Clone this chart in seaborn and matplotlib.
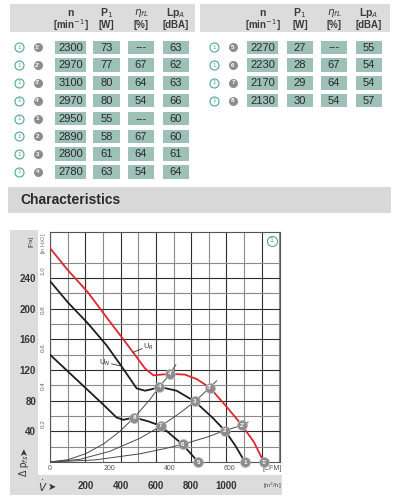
import matplotlib
matplotlib.use('Agg')
import matplotlib.pyplot as plt
import matplotlib.transforms as mtransforms
from matplotlib.patches import Rectangle
import seaborn as sns

# Config
sns.set_style('white')
plt.rcParams['font.family'] = ['Liberation Sans Narrow', 'Liberation Sans', 'DejaVu Sans']
TEAL = '#4fa596'
BOX = '#9dc1b7'
PANEL = '#dcdcdc'
MARK = '#8c8c8c'
RED = '#e2262c'

# Table data
left_ids = ["1'", "2'", "3'", "4'", "1", "2", "3", "4"]
left_n = [2300, 2970, 3100, 2970, 2950, 2890, 2800, 2780]
left_p1 = [73, 77, 80, 80, 55, 58, 61, 63]
left_eta = ['---', 67, 64, 54, '---', 67, 64, 54]
left_lp = [63, 62, 63, 66, 60, 60, 61, 64]
right_ids = ['5', '6', '7', '8']
right_n = [2270, 2230, 2170, 2130]
right_p1 = [27, 28, 29, 30]
right_eta = ['---', 67, 64, 54]
right_lp = [55, 54, 54, 57]
header_top = ['n', 'P$_1$', '$\\eta_{fL}$', 'Lp$_A$']
header_unit = ['[min$^{-1}$]', '[W]', '[%]', '[dBA]']

# Fan curves (CFM, Pa)
red_cfm = [0, 60, 125, 190, 260, 317, 345, 370, 400, 450, 490, 533, 589, 640, 680, 713]
red_pa = [279, 250, 222, 188, 152, 122, 113, 114, 115, 114, 108, 97, 72, 48, 26, 0]
mid_cfm = [0, 60, 126, 189, 240, 289, 317, 340, 365, 422, 483, 544, 583, 617, 650]
mid_pa = [236, 208, 181, 152, 124, 96, 93, 95, 98, 93, 79, 57, 41, 22, 0]
low_cfm = [0, 60, 120, 180, 222, 244, 281, 328, 370, 405, 442, 467, 494]
low_pa = [140, 118, 96, 74, 58, 55, 58, 53, 47, 35, 23, 12, 0]

# System curves through the operating points
sys_a_cfm = [0, 60, 120, 180, 230, 281, 330, 365, 400, 420]
sys_a_pa = [0, 3, 11, 24, 39, 58, 80, 98, 115, 127]
sys_b_cfm = [0, 100, 200, 300, 370, 430, 483, 533, 556]
sys_b_pa = [0, 3.5, 14, 31, 47, 63, 79, 97, 106]
sys_c_cfm = [0, 150, 300, 383, 442, 520, 583, 641, 661]
sys_c_pa = [0, 2.7, 10.7, 17.5, 23, 32, 41, 48, 52]

# Operating points
red_pt_ids = ["1'", "2'", "3'", "4'"]
red_pt_cfm = [713, 641, 533, 400]
red_pt_pa = [0, 48, 97, 115]
mid_pt_ids = ['1', '2', '3', '4']
mid_pt_cfm = [650, 583, 483, 365]
mid_pt_pa = [0, 41, 79, 98]
low_pt_ids = ['5', '6', '7', '8']
low_pt_cfm = [494, 442, 370, 281]
low_pt_pa = [0, 23, 47, 58]

# Axis labels
pa_ticks = [40, 80, 120, 160, 200, 240]
inh2o_ticks = [0.2, 0.4, 0.6, 0.8, 1.0]
cfm_ticks = [0, 200, 400, 600]
m3h_ticks = [200, 400, 600, 800, 1000]
M3H_PER_CFM = 1.699
PA_PER_INH2O = 249.1

fig = plt.figure(figsize=(4, 5), dpi=100)
bg = fig.add_axes([0, 0, 1, 1])
bg.set_xlim(0, 400)
bg.set_ylim(500, 0)
bg.axis('off')

# Table header bands
for x0, x1 in [(10, 195), (200, 390)]:
    bg.add_patch(Rectangle((x0, 4), x1 - x0, 28, color='#dcdcdc', lw=0))

left_cols = [(55, 86), (93, 120), (128, 154), (163, 189)]
right_cols = [(247, 278), (287, 313), (321, 347), (356, 382)]


def draw_table(cols, icon_x, ids, n, p1, eta, lp):
    for (x0, x1), top, unit in zip(cols, header_top, header_unit):
        xc = (x0 + x1) / 2
        bg.text(xc, 13, top, ha='center', va='center', fontsize=7.5, color='#3a3a3a',
                fontweight='bold')
        bg.text(xc, 25, unit, ha='center', va='center', fontsize=7, color='#3a3a3a',
                fontweight='bold')
    for i, row in enumerate(zip(ids, n, p1, eta, lp)):
        y = 47.3 + i * 17.8
        bg.scatter([icon_x[0]], [y], s=42, facecolor='white', edgecolor=TEAL, lw=0.8)
        bg.text(icon_x[0], y, '1', ha='center', va='center', fontsize=4.5, color=TEAL)
        bg.scatter([icon_x[1]], [y], s=42, color=MARK, lw=0)
        bg.text(icon_x[1], y, row[0], ha='center', va='center', fontsize=4.5,
                color='white', fontweight='bold')
        for (x0, x1), val in zip(cols, row[1:]):
            bg.add_patch(Rectangle((x0, y - 6.8), x1 - x0, 13.6, color=BOX, lw=0))
            bg.text((x0 + x1) / 2, y + 0.3, str(val), ha='center', va='center',
                    fontsize=8, color='#2a2a2a')


draw_table(left_cols, (19, 37.5), left_ids, left_n, left_p1, left_eta, left_lp)
draw_table(right_cols, (214, 233), right_ids, right_n, right_p1, right_eta, right_lp)

# Characteristics band
bg.add_patch(Rectangle((8, 187), 383, 26, color='#d9d9d9', lw=0))
bg.text(20, 200.5, 'Characteristics', ha='left', va='center', fontsize=10,
        fontweight='bold', color='#2a2a2a')

# Gray L panel around the chart
bg.add_patch(Rectangle((10, 230), 28, 265, color=PANEL, lw=0))
bg.add_patch(Rectangle((10, 475), 272, 20, color=PANEL, lw=0))
bg.text(31, 241, '[Pa]', rotation=90, ha='center', va='center', fontsize=4.5, color='#444')
bg.text(24, 466, 'Δ p$_{fs}$', rotation=90, ha='center', va='center',
        fontsize=7, color='#333')
bg.text(24, 451, '➤', rotation=90, ha='center', va='center', fontsize=7,
        color='#333', family='DejaVu Sans')
bg.text(43, 486, '$\\dot{V}$', ha='center', va='center', fontsize=7.5, color='#333')
bg.text(52, 486.5, '➤', ha='center', va='center', fontsize=7, color='#333',
        family='DejaVu Sans')

# Chart
ax = fig.add_axes([50 / 400, 1 - 462 / 500, 230 / 400, 230 / 500])
ax.set_xlim(0, 767)
ax.set_ylim(0, 300)

grid_major = [m / M3H_PER_CFM for m in range(0, 1400, 200)]
grid_minor = [m / M3H_PER_CFM for m in range(100, 1400, 200)]
ax.set_xticks(grid_major)
ax.set_xticks(grid_minor, minor=True)
ax.set_yticks(pa_ticks)
ax.set_yticks(list(range(20, 300, 40)), minor=True)
ax.set_xticklabels([])
ax.set_yticklabels([str(v) for v in pa_ticks], fontsize=7, fontweight='bold', color='#333')
ax.tick_params(axis='both', which='both', length=0)
ax.tick_params(axis='y', pad=10)
ax.grid(which='major', color='#2e2e2e', lw=0.8)
ax.grid(which='minor', color='#8a8a8a', lw=0.8)
for s in ax.spines.values():
    s.set_color('#555')
    s.set_linewidth(0.8)

sys_style = dict(color='#4a4a4a', lw=0.7, sort=False, estimator=None, zorder=3)
sns.lineplot(x=sys_a_cfm, y=sys_a_pa, ax=ax, **sys_style)
sns.lineplot(x=sys_b_cfm, y=sys_b_pa, ax=ax, **sys_style)
sns.lineplot(x=sys_c_cfm, y=sys_c_pa, ax=ax, **sys_style)

sns.lineplot(x=low_cfm, y=low_pa, ax=ax, color='#1e1e1e', lw=1.3, sort=False, estimator=None, zorder=4)
sns.lineplot(x=mid_cfm, y=mid_pa, ax=ax, color='#1e1e1e', lw=1.3, sort=False, estimator=None, zorder=4)
sns.lineplot(x=red_cfm, y=red_pa, ax=ax, color=RED, lw=1.3, sort=False, estimator=None, zorder=4)

for ids, xs, ys in [(red_pt_ids, red_pt_cfm, red_pt_pa),
                    (mid_pt_ids, mid_pt_cfm, mid_pt_pa),
                    (low_pt_ids, low_pt_cfm, low_pt_pa)]:
    ax.scatter(xs, ys, s=52, color=MARK, edgecolor='#bdbdbd', lw=0.5, zorder=6, clip_on=False)
    for label, x, y in zip(ids, xs, ys):
        ax.text(x, y, label, ha='center', va='center', fontsize=4.5, color='white',
                fontweight='bold', zorder=7, clip_on=False)

# U_R / U_N labels
ax.plot([277, 308], [143, 148], color='#333', lw=0.6, zorder=5)
ax.text(310, 150, 'U$_R$', ha='left', va='center', fontsize=5.5, color='#333', zorder=5)
ax.plot([205, 238], [128, 125], color='#333', lw=0.6, zorder=5)
ax.text(203, 129, 'U$_N$', ha='right', va='center', fontsize=5.5, color='#333', zorder=5)

# circled 1 in the corner
ax.scatter([0.964], [0.961], s=52, transform=ax.transAxes, facecolor='white',
           edgecolor=TEAL, lw=0.8, zorder=6, clip_on=False)
ax.text(0.964, 0.961, '1', transform=ax.transAxes, ha='center', va='center',
        fontsize=5, color=TEAL, zorder=7)

# secondary scales
tr = mtransforms.blended_transform_factory(ax.transData, ax.transAxes)
tr_y = mtransforms.blended_transform_factory(ax.transAxes, ax.transData)
for v in inh2o_ticks:
    ax.text(-0.03, v * PA_PER_INH2O, f'{v:.1f}', transform=tr_y,
            rotation=90, ha='center', va='center', fontsize=4.5, color='#666', clip_on=False)
ax.text(-0.03, 0.95, '[in H$_2$O]', transform=ax.transAxes, rotation=90, ha='center',
        va='center', fontsize=4, color='#666')
for v in cfm_ticks:
    ax.text(v, -0.03, str(v), transform=tr, ha='center', va='center', fontsize=5, color='#555')
ax.text(740, -0.03, '[CFM]', transform=tr, ha='center', va='center', fontsize=5, color='#555')
for v in m3h_ticks:
    ax.text(v / M3H_PER_CFM, -0.104, str(v), transform=tr, ha='center', va='center',
            fontsize=7, fontweight='bold', color='#333')
ax.text(740, -0.104, '[m$^3$/h]', transform=tr, ha='center', va='center', fontsize=4.5, color='#444')

fig.savefig('out.png', dpi=100)
plt.close(fig)
